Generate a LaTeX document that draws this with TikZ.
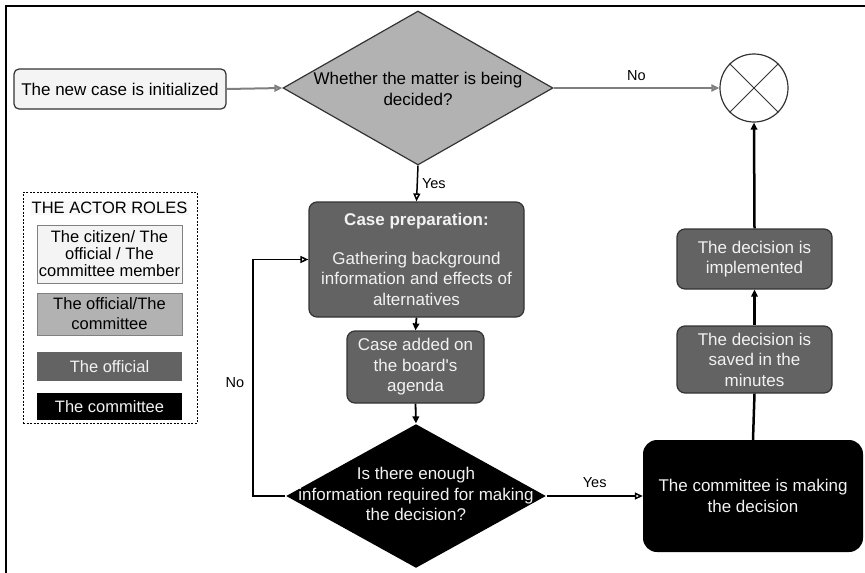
\documentclass[tikz,border=0pt]{standalone}
\usepackage{fontspec}
\setmainfont{Liberation Sans}[Ligatures=TeXOff]
\usetikzlibrary{arrows.meta,shapes.geometric}
\definecolor{cLight}{HTML}{F4F4F4}
\definecolor{cMid}{HTML}{B2B2B2}
\definecolor{cDark}{HTML}{636363}
\definecolor{cEdge}{HTML}{333333}
\definecolor{cGrayLine}{HTML}{7F7F7F}
\definecolor{cTxt}{HTML}{F2F2F2}
\tikzset{
  x=1pt, y=-1pt,
  base/.style={font=\fontsize{17}{20.5}\selectfont, align=center, inner sep=0pt},
  lightbox/.style={base, draw=cEdge, fill=cLight, line width=1.2pt, rounded corners=5pt},
  darkbox/.style={base, draw=cEdge, fill=cDark, text=cTxt, line width=1.2pt, rounded corners=8pt},
  blackbox/.style={base, fill=black, text=cTxt, rounded corners=14pt},
  diamondshape/.style={diamond, inner sep=0pt, line width=1.2pt},
  legbox/.style={base, font=\fontsize{16.5}{17}\selectfont, minimum width=145pt},
  lbl/.style={font=\fontsize{14.5}{16}\selectfont, inner sep=0pt},
  openarrow/.style={-{Triangle[open,length=8pt,width=7pt]}},
  fillarrow/.style={-{Triangle[length=7pt,width=6.5pt]}},
}
\begin{document}
\begin{tikzpicture}
\useasboundingbox (0,0) rectangle (865,573);
% frame
\draw[line width=2.5pt] (865,6) -- (6,6) -- (6,573);

% legend
\node[draw, dashed, line width=1pt, dash pattern=on 2pt off 1.5pt, minimum width=174pt, minimum height=231pt, inner sep=0pt] (legend) at (110,307.5) {};
\node[base, font=\fontsize{16.5}{20}\selectfont, fill=cLight!60!white, inner sep=1pt] (legtitle) at (109.5,208) {THE ACTOR ROLES};
\node[legbox, draw=gray, fill=cLight, minimum height=58pt] (leg1) at (109.5,254) {The citizen/ The\\official / The\\committee member};
\node[legbox, draw=gray, fill=cMid, minimum height=42pt, font=\fontsize{16.5}{20}\selectfont] (leg2) at (109.5,314) {The official/The\\committee};
\node[legbox, fill=cDark, text=cTxt, minimum height=29pt] (leg3) at (109.5,366.5) {The official};
\node[legbox, fill=black, text=cTxt, minimum height=27pt] (leg4) at (109.5,406.5) {The committee};

% main nodes
\node[lightbox, minimum width=212pt, minimum height=40pt] (start) at (120,89) {The new case is initialized};
\node[diamondshape, draw=cEdge, fill=cMid, minimum width=270pt, minimum height=154pt] (d1) at (418,88) {};
\node[base] (d1t) at (418,89) {Whether the matter is being\\decided?};
\node[circle, draw=cEdge, line width=1.2pt, minimum size=68pt, inner sep=0pt] (circ) at (754,88) {};
\draw[cEdge, line width=1pt] (circ.north west) -- (circ.south east) (circ.north east) -- (circ.south west);

\node[darkbox, minimum width=215pt, minimum height=115pt] (prep) at (416.5,259.5)
  {\textbf{Case preparation:}\\[18pt]Gathering background\\information and effects of\\alternatives};
\node[darkbox, minimum width=137pt, minimum height=72pt] (agenda) at (415.5,367) {Case added on\\the board's\\agenda};
\node[diamondshape, fill=black, minimum width=260pt, minimum height=144pt] (d2) at (416,496) {};
\node[base, text=cTxt] (d2t) at (416,494) {Is there enough\\information required for making\\the decision?};
\node[blackbox, minimum width=220pt, minimum height=112pt] (comm) at (753,496) {The committee is making\\the decision};
\node[darkbox, minimum width=155pt, minimum height=67pt] (minutes) at (754.5,359.5) {The decision is\\saved in the\\minutes};
\node[darkbox, minimum width=155pt, minimum height=60pt] (impl) at (754.5,259) {The decision is\\implemented};

% connectors
\draw[openarrow, draw=cGrayLine, line width=2pt] (start.east) -- (d1.west);
\draw[openarrow, draw=cGrayLine, line width=2pt] (d1.east) -- node[lbl, text=black, above=6pt, pos=0.5] (lno1) {No} (circ.west);
\draw[openarrow, line width=1.5pt] (d1.south) -- node[lbl, right=4pt] (lyes1) {Yes} (prep.north);
\draw[fillarrow, line width=1.8pt] (prep.south) -- (agenda.north);
\draw[fillarrow, line width=1.8pt] (agenda.south) -- (d2.north);
\coordinate (loopc) at (253,496);
\draw[openarrow, line width=1.5pt] (d2.west) -- (loopc) |- (prep.west);
\node[lbl] (lno2) at (235,383) {No};
\draw[openarrow, line width=1.5pt] (d2.east) -- node[lbl, above=8pt] (lyes2) {Yes} (comm.west);
\draw[line width=2.5pt] (comm.north) -- (minutes.south);
\draw[fillarrow, line width=2.5pt] (minutes.north) -- (impl.south);
\draw[fillarrow, line width=2.5pt] (impl.north) -- (circ.south);
\end{tikzpicture}
\end{document}
